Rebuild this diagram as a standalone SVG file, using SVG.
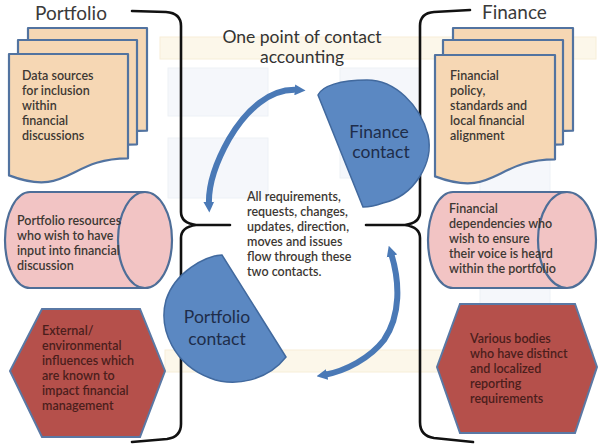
<svg xmlns="http://www.w3.org/2000/svg" width="600" height="446" viewBox="0 0 600 446">
<defs>
<style>
.ghost{fill:#fcf7ea;stroke:#f7eed8;stroke-width:1}
.ghostb{fill:#f5f7fb;stroke:#edf1f6;stroke-width:1}
.doc{fill:#f6d7b4;stroke:#5273a0;stroke-width:2.2;stroke-linejoin:round}
.cyl{fill:#f2c4c4;stroke:#4e6e98;stroke-width:2.2}
.hex{fill:#b5504b;stroke:#5a78a4;stroke-width:2}
.contact{fill:#5b88c2;stroke:#41699e;stroke-width:1.5}
.arc{fill:none;stroke:#4a79b6;stroke-width:6}
.brace{fill:none;stroke:#111;stroke-width:2.6;stroke-linejoin:round;stroke-linecap:round}
.t{font-family:Lato,"Open Sans",sans-serif;font-weight:600;font-size:12.5px;fill:#3d3833}
.th{font-family:Lato,"Open Sans",sans-serif;font-weight:600;font-size:12.5px;fill:#4b1e1c}
.head{font-family:Lato,"Open Sans",sans-serif;font-size:19px;fill:#3a3a3a}
.title{font-family:Lato,"Open Sans",sans-serif;font-size:17.5px;fill:#333}
.ct{font-family:Lato,"Open Sans",sans-serif;font-size:17.5px;fill:#1e2d4a;text-anchor:middle}
</style>
<marker id="ah" viewBox="0 0 10 10" refX="3" refY="5" markerWidth="1.8" markerHeight="1.9" orient="auto-start-reverse">
<path d="M0,0 L10,5 L0,10 Z" fill="#4a79b6"/>
</marker>
</defs>

<g id="background">
<rect class="ghost" x="160" y="37" width="436" height="22"/>
<rect class="ghost" x="165" y="350" width="428" height="22"/>
<rect class="ghostb" x="168" y="68" width="100" height="48"/>
<rect class="ghostb" x="168" y="138" width="100" height="60"/>
<rect class="ghostb" x="340" y="68" width="80" height="110"/>
<rect class="ghostb" x="480" y="68" width="70" height="290"/>
</g>

<g id="connectors">
<path class="brace" d="M132,11 L166,12 Q181,13 181,26 L181,212 Q181,223 196,225 L230,225 M196,225 Q181,227 181,238 L181,424 Q181,437 167,439 L132,442"/>
<path class="brace" d="M470,10 L434,12 Q420,13 420,26 L420,212 Q420,223 405,225 L366,225 M405,225 Q420,227 420,238 L420,422 Q420,436 434,438 L473,442"/>
<path class="arc" marker-start="url(#ah)" marker-end="url(#ah)" d="M298,90 C270,88 246,110 229,139 C216,162 208,184 209,205"/>
<path class="arc" marker-start="url(#ah)" marker-end="url(#ah)" d="M391,253 C400,282 401,315 384,340 C370,358 346,371 324,375"/>
</g>

<g id="title">
<text class="title" x="302" y="43" text-anchor="middle">One point of contact</text>
<text class="title" x="302" y="63" text-anchor="middle">accounting</text>
</g>

<g id="portfolio-heading"><text class="head" x="35" y="20">Portfolio</text></g>
<g id="finance-heading"><text class="head" x="482" y="19">Finance</text></g>

<g id="portfolio-data">
<path class="doc" d="M28,28 H147 V130.7 C87.5,130.7 87.5,169.7 28,147.5 Z"/>
<path class="doc" d="M18,40 H137 V144.3 C77.5,144.3 77.5,184 18,161.4 Z"/>
<path class="doc" d="M9,54 H128 V158.3 C68.5,158.3 68.5,198 9,175.4 Z"/>
<text class="t" x="22" y="80">Data sources</text>
<text class="t" x="22" y="95">for inclusion</text>
<text class="t" x="22" y="110">within</text>
<text class="t" x="22" y="125">financial</text>
<text class="t" x="22" y="140">discussions</text>
</g>

<g id="portfolio-resources">
<path class="cyl" d="M30,192 H145 A27,48 0 0 1 145,288 H30 A25,48 0 0 1 30,192 Z"/>
<path class="cyl" d="M145,192 A27,48 0 0 0 145,288"/>
<text class="t" x="17" y="225">Portfolio resources</text>
<text class="t" x="17" y="240">who wish to have</text>
<text class="t" x="17" y="255">input into financial</text>
<text class="t" x="17" y="270">discussion</text>
</g>

<g id="external-influences">
<polygon class="hex" points="42,309 140,309 165,371 140,437 42,437 10,371"/>
<text class="th" x="42" y="335">External/</text>
<text class="th" x="42" y="350">environmental</text>
<text class="th" x="42" y="365">influences which</text>
<text class="th" x="42" y="380">are known to</text>
<text class="th" x="42" y="395">impact financial</text>
<text class="th" x="42" y="410">management</text>
</g>

<g id="finance-policy">
<path class="doc" d="M453,28 H573 V130.7 C513,130.7 513,169.7 453,147.5 Z"/>
<path class="doc" d="M443,40 H563 V144.3 C503,144.3 503,184 443,161.4 Z"/>
<path class="doc" d="M435,55 H555 V159.3 C495,159.3 495,199 435,176.4 Z"/>
<text class="t" x="450" y="80">Financial</text>
<text class="t" x="450" y="95">policy,</text>
<text class="t" x="450" y="110">standards and</text>
<text class="t" x="450" y="125">local financial</text>
<text class="t" x="450" y="140">alignment</text>
</g>

<g id="financial-dependencies">
<path class="cyl" d="M453,192 H567 A29,48 0 0 1 567,288 H453 A25,48 0 0 1 453,192 Z"/>
<path class="cyl" d="M567,192 A29,48 0 0 0 567,288"/>
<text class="t" x="449" y="213">Financial</text>
<text class="t" x="449" y="228">dependencies who</text>
<text class="t" x="449" y="243">wish to ensure</text>
<text class="t" x="449" y="258">their voice is heard</text>
<text class="t" x="449" y="273">within the portfolio</text>
</g>

<g id="various-bodies">
<polygon class="hex" points="460,304 575,304 597,367 575,433 460,433 437,367"/>
<text class="th" x="470" y="343">Various bodies</text>
<text class="th" x="470" y="358">who have distinct</text>
<text class="th" x="470" y="373">and localized</text>
<text class="th" x="470" y="388">reporting</text>
<text class="th" x="470" y="403">requirements</text>
</g>

<g id="finance-contact">
<path class="contact" d="M318,95 C322,86 340,80 367,80 C395,80 420,105 428,135 C434,162 415,196 383,203 C375,206 368,207 363,207 Z"/>
<text class="ct" x="379" y="138">Finance</text>
<text class="ct" x="381" y="158">contact</text>
</g>

<g id="portfolio-contact">
<path class="contact" d="M222,255 C205,256 175,272 166,300 C158,330 175,365 210,378 C235,388 268,380 286,357 Z"/>
<text class="ct" x="217" y="323">Portfolio</text>
<text class="ct" x="217" y="345">contact</text>
</g>

<g id="flow-note">
<text class="t" x="247" y="201">All requirements,</text>
<text class="t" x="247" y="216">requests, changes,</text>
<text class="t" x="247" y="231">updates, direction,</text>
<text class="t" x="247" y="246">moves and issues</text>
<text class="t" x="247" y="261">flow through these</text>
<text class="t" x="247" y="276">two contacts.</text>
</g>
</svg>
